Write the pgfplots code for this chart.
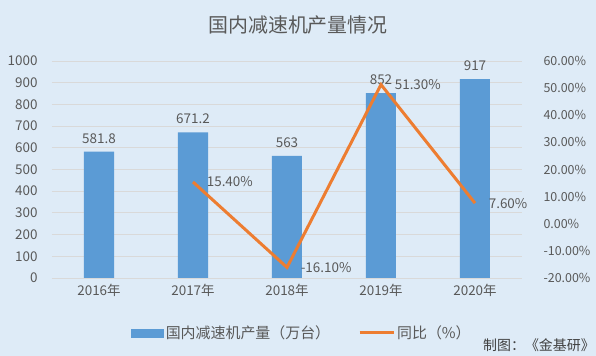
\documentclass[border=0pt]{standalone}
\usepackage{fontspec}
\setmainfont{Noto Sans CJK SC}
\usepackage{pgfplots}
\pgfplotsset{compat=1.18}
\definecolor{bg}{HTML}{DEEBF7}
\definecolor{barblue}{HTML}{5B9BD5}
\definecolor{lineor}{HTML}{ED7D31}
\definecolor{txt}{HTML}{595959}
\definecolor{gridc}{HTML}{D9D9D9}
\begin{document}
\begin{tikzpicture}
\fill[bg] (0bp,0bp) rectangle (596bp,356bp);
\useasboundingbox (0bp,0bp) rectangle (596bp,356bp);
\node[text=txt, font=\fontsize{20}{24}\selectfont] at (298bp,331bp) {国内减速机产量情况};
\node[anchor=west, text=black!75, font=\fontsize{14}{16}\selectfont, inner sep=0pt] at (483bp,11bp) {制图：《金基研》};
\begin{axis}[
  at={(52bp,78bp)}, anchor=south west, scale only axis,
  width=470bp, height=217bp,
  xmin=-0.5, xmax=4.5, ymin=0, ymax=1000,
  ytick={0,100,...,1000},
  xtick={0,1,2,3,4},
  xticklabels={2016年,2017年,2018年,2019年,2020年},
  axis line style={draw=none}, major tick style={draw=none},
  ymajorgrids, grid style={gridc, line width=0.8bp},
  ticklabel style={text=txt, font=\fontsize{13.5}{16}\selectfont},
  /pgf/number format/assume math mode=true,
  /pgf/number format/1000 sep={},
  yticklabel style={xshift=-11bp},
  xticklabel style={yshift=-3bp},
]
\addplot[ybar, bar width=30bp, fill=barblue, draw=none,
  nodes near coords,
  nodes near coords style={text=txt, font=\fontsize{13.5}{16}\selectfont, yshift=5bp, /pgf/number format/assume math mode=true}]
  coordinates {(0,581.8) (1,671.2) (2,563) (3,852) (4,917)};
\end{axis}
\begin{axis}[
  at={(52bp,78bp)}, anchor=south west, scale only axis,
  width=470bp, height=217bp,
  xmin=-0.5, xmax=4.5, ymin=-20, ymax=60,
  ytick={-20,-10,...,60},
  axis y line*=right, hide x axis,
  axis line style={draw=none}, major tick style={draw=none},
  ticklabel style={text=txt, font=\fontsize{12.5}{15}\selectfont},
  yticklabel={\pgfmathprintnumber[fixed,fixed zerofill,precision=2,assume math mode=true]{\tick}\%},
  yticklabel style={xshift=18bp},
  legend style={draw=none, fill=none, at={(0.532,-0.253)}, anchor=center,
    font=\fontsize{15}{18}\selectfont, text=txt,
    /tikz/every even column/.append style={column sep=26bp}},
  legend columns=2, legend cell align=left,
]
\addlegendimage{legend image code/.code={\fill[barblue] (0bp,-4bp) rectangle (32bp,4bp);}}
\addlegendentry{国内减速机产量（万台）}
\addplot[lineor, line width=3bp, mark=none,
  nodes near coords, point meta=explicit symbolic,
  nodes near coords style={anchor=west, xshift=9bp, text=txt, font=\fontsize{13.5}{16}\selectfont},
  legend image code/.code={\draw[lineor, line width=3bp] (0bp,0bp) -- (34bp,0bp);}]
  coordinates {(1,15.4) [15.40\%] (2,-16.1) [-16.10\%] (3,51.3) [51.30\%] (4,7.6) [7.60\%]};
\addlegendentry{同比（\%）}
\end{axis}
\end{tikzpicture}
\end{document}
